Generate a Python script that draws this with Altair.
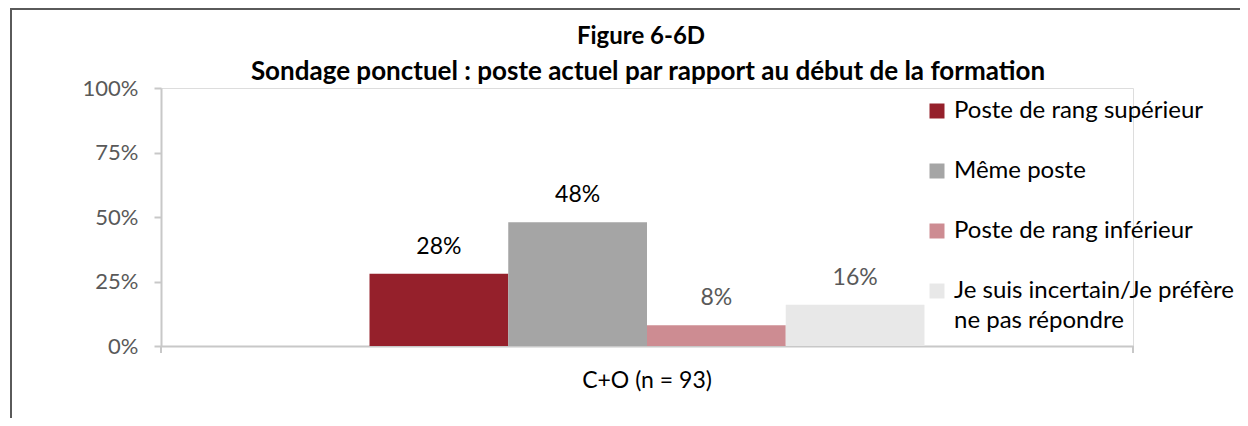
import altair as alt
import pandas as pd

# ---- data ----
category = ["C+O (n = 93)"]
series = [
    "Poste de rang supérieur",
    "Même poste",
    "Poste de rang inférieur",
    "Je suis incertain/Je préfère ne pas répondre",
]
values = [28, 48, 8, 16]
colors = ["#95202B", "#A5A5A5", "#CD8C92", "#E8E8E8"]
y_ticks = [0, 25, 50, 75, 100]
title_lines = [
    "Figure 6-6D",
    "Sondage ponctuel : poste actuel par rapport au début de la formation",
]

df = pd.DataFrame({"group": category * len(series), "series": series, "value": values})

FONT = "Lato"
W, H = 972, 258

x_enc = alt.X(
    "group:N",
    scale=alt.Scale(paddingInner=0, paddingOuter=0.3757),
    axis=alt.Axis(
        title=None,
        labelAngle=0,
        labelFont=FONT,
        labelFontSize=23,
        labelColor="#000000",
        labelPadding=23,
        ticks=False,
        domainColor="#C8C8C8",
        domainWidth=2,
    ),
)
xo_enc = alt.XOffset("series:N", sort=series, scale=alt.Scale(paddingInner=0, paddingOuter=0))
y_enc = alt.Y(
    "value:Q",
    scale=alt.Scale(domain=[0, 100]),
    axis=alt.Axis(
        title=None,
        values=y_ticks,
        grid=False,
        labelExpr="datum.value + '%'",
        labelFont=FONT,
        labelFontSize=22,
        labelColor="#595959",
        labelPadding=16,
        tickSize=7,
        tickColor="#C8C8C8",
        tickWidth=2,
        domainColor="#C8C8C8",
        domainWidth=2,
    ),
)

legend = alt.Legend(
    title=None,
    orient="none",
    legendX=764,
    legendY=11,
    padding=0,
    symbolType="square",
    symbolSize=225,
    symbolStrokeWidth=0,
    labelFont=FONT,
    labelFontSize=24,
    labelColor="#000000",
    labelOffset=5,
    labelLimit=400,
    rowPadding=36,
    labelExpr="datum.label == 'Je suis incertain/Je préfère ne pas répondre' ? ['Je suis incertain/Je préfère', 'ne pas répondre'] : datum.label",
)

bars = alt.Chart(df).mark_bar().encode(
    x=x_enc,
    xOffset=xo_enc,
    y=y_enc,
    color=alt.Color("series:N", sort=series, scale=alt.Scale(domain=series, range=colors), legend=legend),
)

labels = alt.Chart(df).transform_calculate(
    label="format(datum.value, 'd') + '%'"
).mark_text(font=FONT, fontSize=23, baseline="alphabetic", dy=-20).encode(
    x=alt.X("group:N"),
    xOffset=alt.XOffset("series:N", sort=series),
    y=alt.Y("value:Q"),
    text="label:N",
    color=alt.condition(
        alt.FieldOneOfPredicate(field="series", oneOf=series[:2]),
        alt.value("#000000"),
        alt.value("#595959"),
    ),
)

one = alt.Data(values=[{"k": 0}])

title1 = alt.Chart(one).mark_text(
    font=FONT, fontSize=24, fontWeight="bold", color="#000000", baseline="middle", align="center"
).encode(x=alt.value(W / 2 - 6), y=alt.value(-51), text=alt.value(title_lines[0]))
title2 = alt.Chart(one).mark_text(
    font=FONT, fontSize=26, fontWeight="bold", color="#000000", baseline="middle", align="center"
).encode(x=alt.value(W / 2 + 1), y=alt.value(-16), text=alt.value(title_lines[1]))

frame_color = "#5A5A5A"
top_line = alt.Chart(one).mark_rule(color=frame_color, strokeWidth=2).encode(
    x=alt.value(-151), x2=alt.value(1100), y=alt.value(-79)
)
left_line = alt.Chart(one).mark_rule(color=frame_color, strokeWidth=2).encode(
    x=alt.value(-150), y=alt.value(-80), y2=alt.value(340)
)
tick_l = alt.Chart(one).mark_rule(color="#C8C8C8", strokeWidth=2).encode(
    x=alt.value(0), y=alt.value(H), y2=alt.value(H + 7)
)
tick_r = alt.Chart(one).mark_rule(color="#C8C8C8", strokeWidth=2).encode(
    x=alt.value(W), y=alt.value(H), y2=alt.value(H + 7)
)

chart = (
    alt.layer(bars, labels, title1, title2, top_line, left_line, tick_l, tick_r)
    .properties(
        width=W,
        height=H,
        autosize=alt.AutoSizeParams(type="none"),
        padding={"left": 153, "top": 80, "right": 107, "bottom": 72},
    )
    .configure_view(stroke=None)
    .configure(style={"guide-label": {"lineHeight": 30}})
)

chart.save("out.html", embed_options={"renderer": "svg", "actions": False})
